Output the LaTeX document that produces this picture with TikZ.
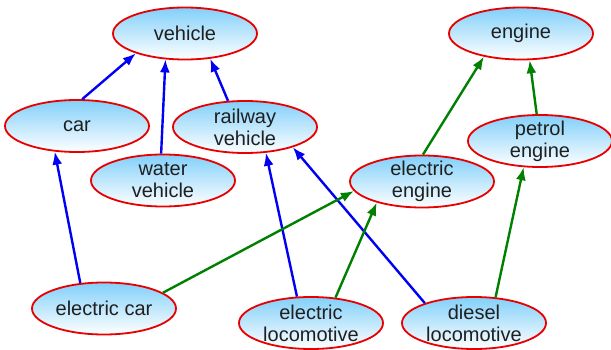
\documentclass[tikz,border=0pt]{standalone}
\usepackage{fontspec}
\setmainfont{Liberation Sans}
\usetikzlibrary{shapes.geometric,arrows.meta}
\definecolor{skytop}{RGB}{130,208,250}
\definecolor{ellred}{RGB}{232,0,0}
\definecolor{edgeblue}{RGB}{0,0,245}
\definecolor{edgegreen}{RGB}{0,128,0}
\tikzset{
  ell/.style={ellipse, draw=ellred, line width=1.8pt, minimum width=144pt, minimum height=52pt,
    inner sep=-15pt, top color=skytop, bottom color=white, align=center,
    font=\fontsize{20}{22}\selectfont, text=black!88},
  isa/.style={line width=2.4pt, -{Latex[length=13pt,width=10pt]}},
  bluearc/.style={isa, edgeblue},
  greenarc/.style={isa, edgegreen}
}
\begin{document}
\begin{tikzpicture}[x=1pt,y=-1pt]
\useasboundingbox (0,0) rectangle (611,350);
\node[ell] (vehicle) at (185,33.5) {vehicle};
\node[ell] (engine) at (521,33.5) {engine};
\node[ell] (car) at (77,126) {car};
\node[ell] (railway) at (245,127) {railway\\vehicle};
\node[ell] (petrol) at (540,141) {petrol\\engine};
\node[ell] (water) at (163,180.5) {water\\vehicle};
\node[ell] (eengine) at (422,181.5) {electric\\engine};
\node[ell] (ecar) at (104,308.5) {electric car};
\node[ell] (eloco) at (311,323) {electric\\locomotive};
\node[ell] (diesel) at (474,323) {diesel\\locomotive};

\draw[bluearc] (car.79) -- (vehicle.202);
\draw[bluearc] (water.94) -- (vehicle.233);
\draw[bluearc] (railway.123) -- (vehicle.-45);
\draw[bluearc] (ecar.133) -- (car.229);
\draw[bluearc] (eloco.118) -- (railway.-51);
\draw[bluearc] (diesel.158) -- (railway.-23);

\draw[greenarc] (ecar.15) -- (eengine.188);
\draw[greenarc] (eloco.46) -- (eengine.205);
\draw[greenarc] (eengine.88) -- (engine.212);
\draw[greenarc] (petrol.97) -- (engine.-72);
\draw[greenarc] (diesel.50) -- (petrol.238);
\end{tikzpicture}
\end{document}
